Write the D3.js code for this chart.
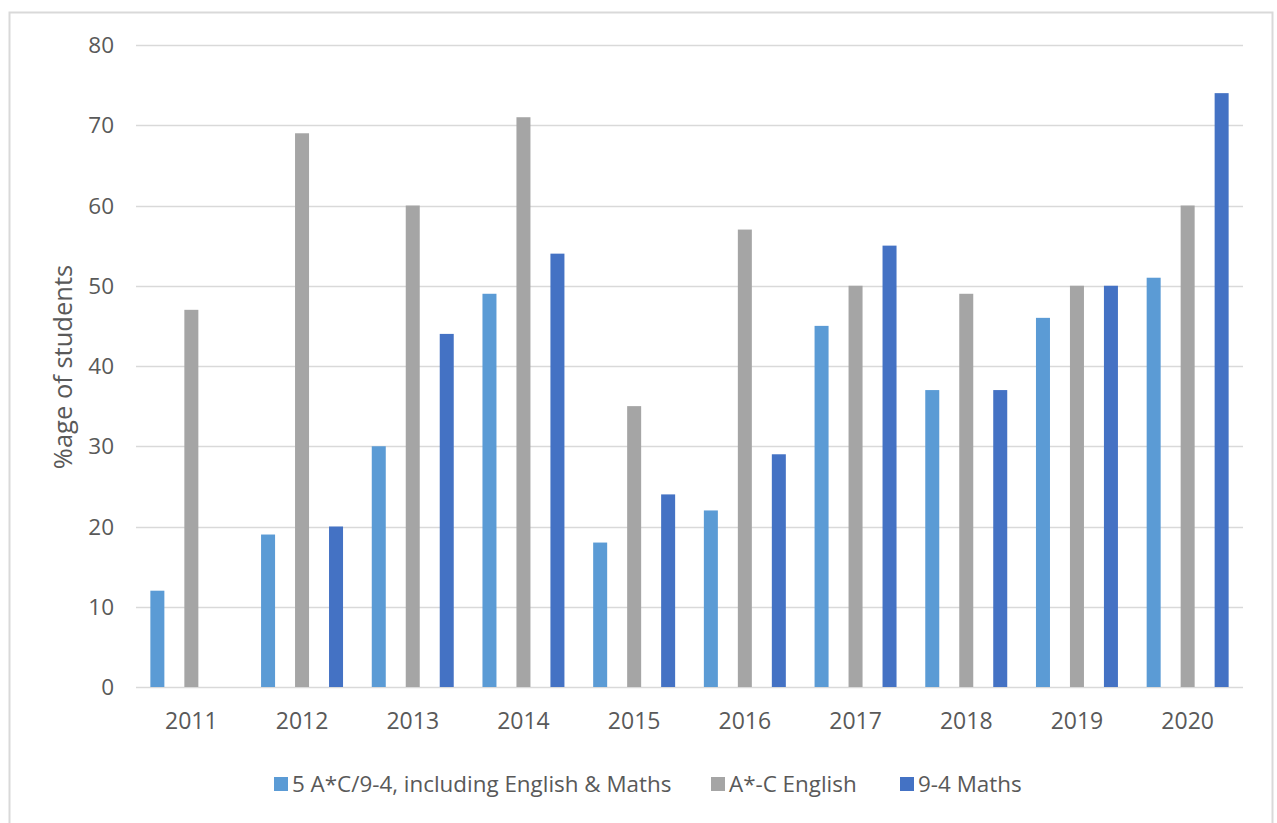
<!DOCTYPE html>
<html>
<head>
<meta charset="utf-8">
<script src="https://cdn.jsdelivr.net/npm/d3@7"></script>
<style>
  html, body { margin: 0; padding: 0; background: #fff; }
  svg { display: block; }
  text { font-family: "Open Sans", "Noto Sans", sans-serif; fill: #595959; }
</style>
</head>
<body>
<svg id="chart" width="1277" height="823"></svg>
<script>
const years = ["2011","2012","2013","2014","2015","2016","2017","2018","2019","2020"];
const seriesNames = ["5 A*C/9-4, including English & Maths", "A*-C English", "9-4 Maths"];
const seriesColors = ["#5B9BD5", "#A5A5A5", "#4472C4"];
const fiveAC = [12, 19, 30, 49, 18, 22, 45, 37, 46, 51];
const english = [47, 69, 60, 71, 35, 57, 50, 49, 50, 60];
const maths = [null, 20, 44, 54, 24, 29, 55, 37, 50, 74];
const yTicks = [0, 10, 20, 30, 40, 50, 60, 70, 80];
const yTitle = "%age of students";

const seriesValues = [fiveAC, english, maths];

const svg = d3.select("#chart");

// outer chart border
svg.append("rect")
  .attr("x", 9.5).attr("y", 12.5)
  .attr("width", 1263).attr("height", 830)
  .attr("fill", "#fff").attr("stroke", "#d9d9d9").attr("stroke-width", 2);

const plot = { left: 136, right: 1243, top: 45, bottom: 687 };

const x = d3.scaleBand().domain(years).range([plot.left, plot.right]).padding(0);
const y = d3.scaleLinear().domain([0, 80]).range([plot.bottom, plot.top]);

// gridlines
svg.append("g")
  .selectAll("line")
  .data(yTicks)
  .join("line")
  .attr("x1", plot.left).attr("x2", plot.right)
  .attr("y1", d => Math.round(y(d)) + 0.5).attr("y2", d => Math.round(y(d)) + 0.5)
  .attr("stroke", "#d9d9d9").attr("stroke-width", 1.3);

// y tick labels
svg.append("g")
  .selectAll("text")
  .data(yTicks)
  .join("text")
  .attr("x", 114)
  .attr("y", d => y(d))
  .attr("dy", "0.36em")
  .attr("text-anchor", "end")
  .attr("font-size", 22.5)
  .text(d => d);

// bars
const bw = x.bandwidth();
const barW = bw * 0.1265;
const step = bw * 0.307;
const barsG = svg.append("g");
seriesValues.forEach((vals, si) => {
  barsG.append("g")
    .selectAll("rect")
    .data(years.map((yr, i) => ({ yr, v: vals[i] })).filter(d => d.v != null))
    .join("rect")
    .attr("x", d => x(d.yr) + bw / 2 + (si - 1) * step - barW / 2)
    .attr("width", barW)
    .attr("y", d => y(d.v))
    .attr("height", d => y(0) - y(d.v))
    .attr("fill", seriesColors[si]);
});

// x axis labels
svg.append("g")
  .selectAll("text")
  .data(years)
  .join("text")
  .attr("x", d => x(d) + bw / 2)
  .attr("y", 721)
  .attr("dy", "0.36em")
  .attr("text-anchor", "middle")
  .attr("font-size", 23)
  .text(d => d);

// y axis title
svg.append("text")
  .attr("transform", `translate(63, 367) rotate(-90)`)
  .attr("text-anchor", "middle")
  .attr("dy", "0.36em")
  .attr("font-size", 25.5)
  .text(yTitle);

// legend
const legendX = [274, 711, 900];
const legend = svg.append("g");
seriesNames.forEach((name, i) => {
  const g = legend.append("g").attr("transform", `translate(${legendX[i]}, 784)`);
  g.append("rect").attr("x", 0).attr("y", -7).attr("width", 14).attr("height", 14).attr("fill", seriesColors[i]);
  g.append("text").attr("x", 18).attr("y", 0).attr("dy", "0.36em").attr("font-size", 22.4).text(name);
});
</script>
</body>
</html>
